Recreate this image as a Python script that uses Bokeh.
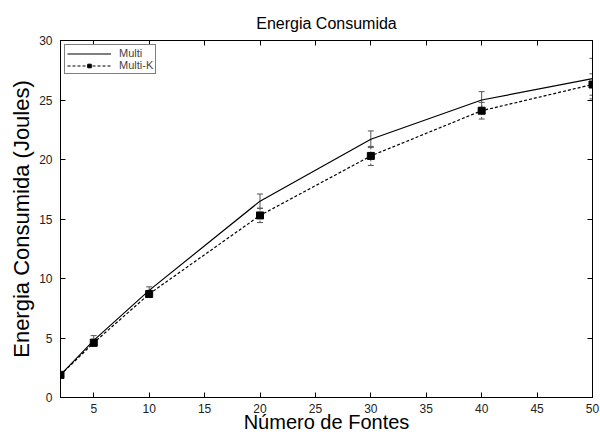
from bokeh.plotting import figure
from bokeh.models import (ColumnDataSource, Range1d, LinearAxis, FixedTicker,
                          Whisker, TeeHead, Legend, LegendItem, CustomLabelingPolicy)
from bokeh.embed import file_html
from bokeh.resources import INLINE

# ---- data ----
fontes = [2, 5, 10, 20, 30, 40, 50]
multi = [1.9, 4.8, 9.0, 16.5, 21.7, 25.0, 26.8]
multi_err = [0.1, 0.4, 0.3, 0.6, 0.7, 0.7, 1.7]
multik = [1.9, 4.6, 8.7, 15.3, 20.3, 24.1, 26.3]
multik_err = [0.1, 0.3, 0.3, 0.6, 0.8, 0.7, 0.9]
x_ticks = [5, 10, 15, 20, 25, 30, 35, 40, 45, 50]
y_ticks = [0, 5, 10, 15, 20, 25, 30]

FONT = "Liberation Sans"

src_m = ColumnDataSource(dict(x=fontes, y=multi,
                              upper=[a + b for a, b in zip(multi, multi_err)],
                              lower=[a - b for a, b in zip(multi, multi_err)]))
src_k = ColumnDataSource(dict(x=fontes, y=multik,
                              upper=[a + b for a, b in zip(multik, multik_err)],
                              lower=[a - b for a, b in zip(multik, multik_err)]))

p = figure(width=600, height=435, output_backend="svg", toolbar_location=None,
           x_range=Range1d(2, 50), y_range=Range1d(0, 30),
           title="Energia Consumida",
           min_border_left=60, min_border_right=8, min_border_top=40, min_border_bottom=38)

p.title.align = "center"
p.title.text_font = FONT
p.title.text_font_style = "normal"
p.title.text_font_size = "16px"
p.title.text_color = "#000000"
p.title.offset = 0
p.title.standoff = 17

p.background_fill_color = "white"
p.border_fill_color = "white"
p.outline_line_color = "black"
p.outline_line_width = 1
p.grid.visible = False

def style_axis(ax, ticks, labels=True):
    ax.ticker = FixedTicker(ticks=ticks)
    ax.major_tick_in = 5
    ax.major_tick_out = 0
    ax.minor_tick_line_color = None
    ax.axis_line_color = "black"
    ax.major_tick_line_color = "black"
    ax.major_label_text_font = FONT
    ax.major_label_text_color = "#222222"
    if labels:
        ax.major_label_text_font_size = "12px"
        ax.major_label_standoff = 8
    else:
        ax.major_label_text_font_size = "0px"
        ax.major_label_standoff = 0
        ax.major_label_policy = CustomLabelingPolicy(code="return []")

style_axis(p.xaxis[0], x_ticks)
style_axis(p.yaxis[0], y_ticks)
p.xaxis[0].major_label_standoff = 6
p.xaxis[0].axis_label = "Número de Fontes"
p.yaxis[0].axis_label = "Energia Consumida (Joules)"
for ax, sz in ((p.xaxis[0], "20px"), (p.yaxis[0], "22px")):
    ax.axis_label_text_font = FONT
    ax.axis_label_text_font_style = "normal"
    ax.axis_label_text_font_size = sz
    ax.axis_label_text_color = "black"
p.xaxis[0].axis_label_standoff = -5
p.yaxis[0].axis_label_standoff = 2

top = LinearAxis()
style_axis(top, x_ticks, labels=False)
p.add_layout(top, "above")
right = LinearAxis()
style_axis(right, y_ticks, labels=False)
p.add_layout(right, "right")

# error bars
wm = Whisker(source=src_m, base="x", upper="upper", lower="lower", dimension="height",
             line_color="#555555", line_width=1,
             upper_head=TeeHead(size=6, line_color="#555555"),
             lower_head=TeeHead(size=6, line_color="#555555"))
wk = Whisker(source=src_k, base="x", upper="upper", lower="lower", dimension="height",
             line_color="#555555", line_width=1, line_dash="2 2",
             upper_head=TeeHead(size=6, line_color="#555555"),
             lower_head=TeeHead(size=6, line_color="#555555"))
p.add_layout(wm)
p.add_layout(wk)

lm = p.line("x", "y", source=src_m, line_color="black", line_width=1.2)
lk = p.line("x", "y", source=src_k, line_color="black", line_width=1.2, line_dash="3 2")
sk = p.scatter("x", "y", source=src_k, marker="square", size=7,
               fill_color="black", line_color="black")

legend = Legend(items=[LegendItem(label="Multi", renderers=[lm]),
                       LegendItem(label="Multi-K", renderers=[lk, sk])],
                location="top_left")
legend.label_text_font = FONT
legend.label_text_font_size = "11px"
legend.label_height = 9
legend.glyph_height = 9
legend.glyph_width = 44
legend.spacing = 0
legend.padding = 2
legend.margin = 4
legend.label_standoff = 8
legend.border_line_color = "black"
legend.border_line_width = 1
legend.background_fill_alpha = 1
p.add_layout(legend)

open("out.html", "w").write(file_html(p, INLINE))
